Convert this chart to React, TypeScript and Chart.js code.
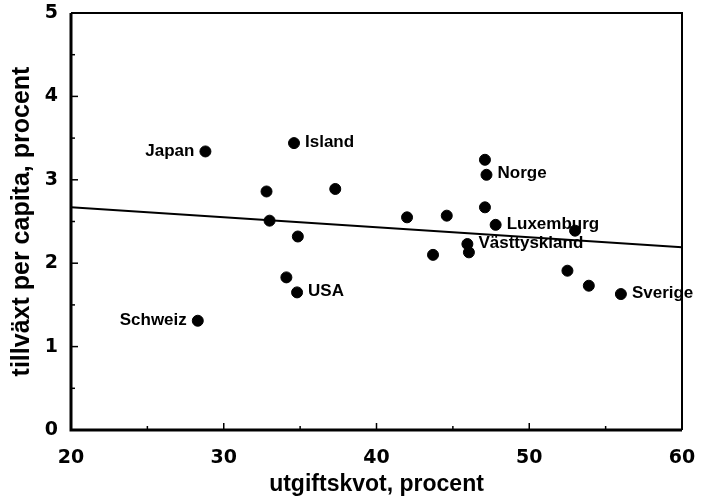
import React, { useEffect, useRef } from 'react';
import { Chart, registerables } from 'chart.js';

Chart.register(...registerables);

// Data
const countries = ['Japan', 'Schweiz', '', '', 'Island', '', 'USA', '', '', '', '', '', 'Västtyskland', '', '', 'Norge', '', 'Luxemburg', '', '', '', 'Sverige'];
const spendingRatio = [28.8, 28.3, 32.8, 33.0, 34.6, 34.1, 34.8, 34.85, 37.3, 42.0, 43.7, 44.6, 45.95, 46.05, 47.1, 47.2, 47.1, 47.8, 53.0, 52.5, 53.9, 56.0];
const growthPerCapita = [3.34, 1.31, 2.86, 2.51, 3.44, 1.83, 1.65, 2.32, 2.89, 2.55, 2.10, 2.57, 2.23, 2.13, 3.24, 3.06, 2.67, 2.46, 2.39, 1.91, 1.73, 1.63];
const leftLabelled = ['Japan', 'Schweiz'];
const trendX = [20, 60];
const trendY = [2.67, 2.19];
const xMajorTicks = [20, 30, 40, 50, 60];
const yMajorTicks = [0, 1, 2, 3, 4, 5];

const FONT = '"Liberation Sans", Arial, sans-serif';
const TICKFONT = '"DejaVu Sans", sans-serif';

const framePlugin = {
  id: 'framePlugin',
  afterDatasetsDraw(chart: any) {
    const { ctx, chartArea } = chart;
    const xs = chart.scales.x;
    const ys = chart.scales.y;
    ctx.save();
    ctx.strokeStyle = '#000';
    // frame
    ctx.lineWidth = 3;
    ctx.beginPath();
    ctx.moveTo(chartArea.left, chartArea.top);
    ctx.lineTo(chartArea.left, chartArea.bottom);
    ctx.lineTo(chartArea.right, chartArea.bottom);
    ctx.stroke();
    ctx.lineWidth = 2;
    ctx.beginPath();
    ctx.moveTo(chartArea.left, chartArea.top);
    ctx.lineTo(chartArea.right, chartArea.top);
    ctx.lineTo(chartArea.right, chartArea.bottom);
    ctx.stroke();
    // inward ticks
    ctx.lineWidth = 1.5;
    xs.ticks.forEach((t: any) => {
      if (t.value <= xs.min || t.value >= xs.max) return;
      const px = xs.getPixelForValue(t.value);
      const len = xMajorTicks.includes(t.value) ? 7 : 4;
      ctx.beginPath();
      ctx.moveTo(px, chartArea.bottom);
      ctx.lineTo(px, chartArea.bottom - len);
      ctx.stroke();
    });
    ys.ticks.forEach((t: any) => {
      if (t.value <= ys.min || t.value >= ys.max) return;
      const py = ys.getPixelForValue(t.value);
      const len = yMajorTicks.includes(t.value) ? 7 : 4;
      ctx.beginPath();
      ctx.moveTo(chartArea.left, py);
      ctx.lineTo(chartArea.left + len, py);
      ctx.stroke();
    });
    // point labels
    ctx.fillStyle = '#000';
    ctx.font = 'bold 17px ' + FONT;
    ctx.textBaseline = 'middle';
    countries.forEach((name, i) => {
      if (!name) return;
      const px = xs.getPixelForValue(spendingRatio[i]);
      const py = ys.getPixelForValue(growthPerCapita[i]);
      if (leftLabelled.includes(name)) {
        ctx.textAlign = 'right';
        ctx.fillText(name, px - 11, py);
      } else {
        ctx.textAlign = 'left';
        ctx.fillText(name, px + 11, py - 1);
      }
    });
    ctx.restore();
  },
};

export default function App() {
  const ref = useRef<HTMLCanvasElement | null>(null);
  useEffect(() => {
    if (!ref.current) return;
    const chart = new Chart(ref.current, {
      type: 'scatter',
      data: {
        datasets: [
          {
            label: 'länder',
            data: spendingRatio.map((x, i) => ({ x, y: growthPerCapita[i] })),
            backgroundColor: '#000',
            borderColor: '#000',
            pointRadius: 5.5,
            pointHoverRadius: 5.5,
          },
          {
            type: 'line',
            label: 'trend',
            data: trendX.map((x, i) => ({ x, y: trendY[i] })),
            borderColor: '#000',
            borderWidth: 2,
            pointRadius: 0,
            fill: false,
          } as any,
        ],
      },
      options: {
        animation: false,
        responsive: true,
        maintainAspectRatio: false,
        layout: { padding: { top: 13, right: 25, left: 0, bottom: 0 } },
        plugins: { legend: { display: false }, tooltip: { enabled: false } },
        scales: {
          x: {
            type: 'linear',
            min: 20,
            max: 60,
            grid: { display: false, drawTicks: false },
            border: { display: false },
            ticks: {
              stepSize: 5,
              autoSkip: false,
              maxRotation: 0,
              padding: 17,
              color: '#000',
              font: { family: TICKFONT, size: 19, weight: 'bold' },
              callback: (v: any) => (xMajorTicks.includes(v) ? String(v) : ''),
            },
            title: {
              display: true,
              text: 'utgiftskvot, procent',
              color: '#000',
              font: { family: FONT, size: 23, weight: 'bold' },
              padding: { top: 0, bottom: 3 },
            },
            afterFit: (s: any) => { s.height = 71; s.paddingLeft = 0; s.paddingRight = 0; },
          },
          y: {
            type: 'linear',
            min: 0,
            max: 5,
            grid: { display: false, drawTicks: false },
            border: { display: false },
            ticks: {
              stepSize: 0.5,
              autoSkip: false,
              padding: 13,
              color: '#000',
              font: { family: TICKFONT, size: 19, weight: 'bold' },
              callback: (v: any) => (yMajorTicks.includes(v) ? String(v) : ''),
            },
            title: {
              display: true,
              text: 'tillväxt per capita, procent',
              color: '#000',
              font: { family: FONT, size: 25, weight: 'bold' },
              padding: { top: 7, bottom: 0 },
            },
            afterFit: (s: any) => { s.width = 71; s.paddingTop = 0; s.paddingBottom = 0; },
          },
        },
      },
      plugins: [framePlugin],
    });
    return () => chart.destroy();
  }, []);
  return (
    <div style={{ position: 'fixed', left: 0, top: 0, width: 707, height: 501, background: '#fff' }}>
      <canvas ref={ref} />
    </div>
  );
}
